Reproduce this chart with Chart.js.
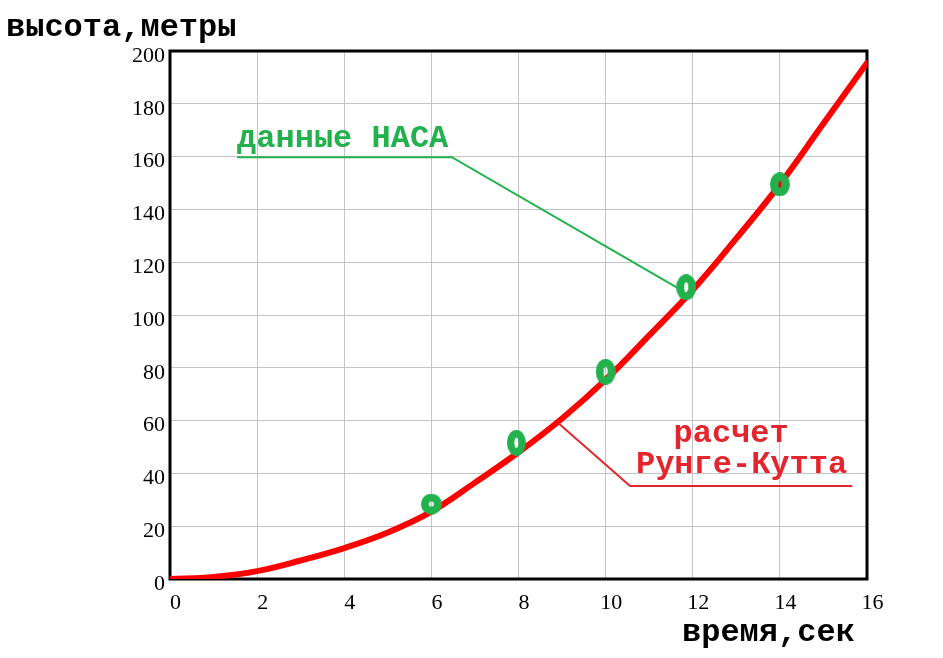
<!DOCTYPE html>
<html>
<head>
<meta charset="utf-8">
<script src="https://cdn.jsdelivr.net/npm/chart.js@4.4.1/dist/chart.umd.min.js"></script>
<style>
    html, body { margin: 0; padding: 0; background: #ffffff; }
    #wrap { width: 943px; height: 658px; position: relative; }
</style>
</head>
<body>
<div id="wrap"><canvas id="chart"></canvas></div>
<script>
// расчет Рунге-Кутта (время, сек / высота, м)
const timeValues   = [0, 1, 2, 3, 4, 5, 6, 7, 8, 9, 10, 11, 12, 13, 14, 15, 16];
const heightValues = [0, 0.8, 3, 7, 11.7, 17.6, 25.5, 36.5, 48, 60.8, 75.5, 92.3, 109.5, 129, 149.5, 172.5, 195.5];

// данные НАСА
const nasaTimes   = [6, 7.95, 10, 11.85, 14];
const nasaHeights = [28.4, 51.6, 78.5, 110.5, 149.5];

// оси
const xTicks = [0, 2, 4, 6, 8, 10, 12, 14, 16];
const yTicks = [0, 20, 40, 60, 80, 100, 120, 140, 160, 180, 200];

// выноски (в единицах графика)
const nasaLeaderT = [1.54, 6.47, 11.62];
const nasaLeaderH = [159.8, 159.8, 110.6];
const rkLeaderT = [8.91, 10.56, 15.66];
const rkLeaderH = [59.1, 35.2, 35.2];

const GREEN = '#22b14c';
const RED = '#e3262d';
const MONO = 'bold 32px "Liberation Mono", "Courier New", monospace';
const SERIF = '"Liberation Serif", "Times New Roman", serif';

// размеры колец: [ширина, высота, ширина дырки, высота дырки]
const ringSizes = [[21, 21, 5, 5], [19, 26, 4, 10], [20, 26, 4, 10], [20, 26, 4, 10], [20, 24, 3, 7]];

function makeRing(w, h, hw, hh) {
    const c = document.createElement('canvas');
    c.width = w;
    c.height = h;
    const g = c.getContext('2d');
    g.fillStyle = GREEN;
    g.beginPath();
    g.ellipse(w / 2, h / 2, w / 2, h / 2, 0, 0, Math.PI * 2);
    g.fill();
    g.globalCompositeOperation = 'destination-out';
    g.beginPath();
    g.ellipse(w / 2, h / 2, hw / 2, hh / 2, 0, 0, Math.PI * 2);
    g.fill();
    return c;
}

const ringStyles = ringSizes.map(s => makeRing(s[0], s[1], s[2], s[3]));

// рамка графика
const framePlugin = {
    id: 'frame',
    beforeDatasetsDraw(chart) {
        const a = chart.chartArea;
        const ctx = chart.ctx;
        ctx.save();
        ctx.strokeStyle = '#000000';
        ctx.lineWidth = 3;
        ctx.strokeRect(a.left, a.top, a.right - a.left, a.bottom - a.top);
        ctx.restore();
    }
};

// подписи и выноски
const notesPlugin = {
    id: 'notes',
    afterDatasetsDraw(chart) {
        const ctx = chart.ctx;
        const xs = chart.scales.x;
        const ys = chart.scales.y;
        const px = t => xs.getPixelForValue(t);
        const py = h => ys.getPixelForValue(h);

        function leader(ts, hs, color) {
            ctx.beginPath();
            ctx.moveTo(px(ts[0]), py(hs[0]));
            for (let i = 1; i < ts.length; i++) ctx.lineTo(px(ts[i]), py(hs[i]));
            ctx.strokeStyle = color;
            ctx.lineWidth = 2;
            ctx.stroke();
        }

        ctx.save();
        leader(nasaLeaderT, nasaLeaderH, GREEN);
        leader(rkLeaderT, rkLeaderH, RED);

        ctx.font = MONO;
        ctx.textBaseline = 'alphabetic';
        ctx.fillStyle = GREEN;
        ctx.textAlign = 'left';
        ctx.fillText('данные НАСА', px(1.54), py(163.5));

        ctx.fillStyle = RED;
        ctx.textAlign = 'center';
        ctx.fillText('расчет', px(12.88), py(52));
        ctx.fillText('Рунге-Кутта', px(13.12), py(40.2));

        ctx.fillStyle = '#000000';
        ctx.textAlign = 'left';
        ctx.fillText('высота,метры', 6, 36);
        ctx.fillText('время,сек', 682, 641);
        ctx.restore();
    }
};

const ctx = document.getElementById('chart').getContext('2d');
new Chart(ctx, {
    type: 'line',
    data: {
        datasets: [
            {
                label: 'данные НАСА',
                data: nasaTimes.map((t, i) => ({ x: t, y: nasaHeights[i] })),
                showLine: false,
                pointStyle: ringStyles,
                pointRadius: 10,
                pointHoverRadius: 10
            },
            {
                label: 'расчет Рунге-Кутта',
                data: timeValues.map((t, i) => ({ x: t, y: heightValues[i] })),
                borderColor: '#ff0000',
                borderWidth: 6,
                pointRadius: 0,
                tension: 0.4,
                borderCapStyle: 'round',
                fill: false
            }
        ]
    },
    options: {
        responsive: true,
        maintainAspectRatio: false,
        animation: false,
        layout: { padding: { left: 0, top: 51, right: 76, bottom: 0 } },
        plugins: {
            legend: { display: false },
            tooltip: { enabled: false }
        },
        scales: {
            x: {
                type: 'linear',
                min: 0,
                max: 16,
                afterBuildTicks: s => { s.ticks = xTicks.map(v => ({ value: v })); },
                afterFit: s => { s.height = 79; },
                border: { display: false },
                grid: { color: '#c4c4c4', lineWidth: 1, drawTicks: false },
                ticks: {
                    color: '#000000',
                    font: { family: SERIF, size: 22 },
                    padding: 11,
                    labelOffset: 5.5,
                    maxRotation: 0
                }
            },
            y: {
                min: 0,
                max: 200,
                afterBuildTicks: s => { s.ticks = yTicks.map(v => ({ value: v })); },
                afterFit: s => { s.width = 170; },
                border: { display: false },
                grid: { color: '#c4c4c4', lineWidth: 1, drawTicks: false },
                ticks: {
                    color: '#000000',
                    font: { family: SERIF, size: 22 },
                    padding: 5,
                    labelOffset: 5
                }
            }
        }
    },
    plugins: [framePlugin, notesPlugin]
});
</script>
</body>
</html>
